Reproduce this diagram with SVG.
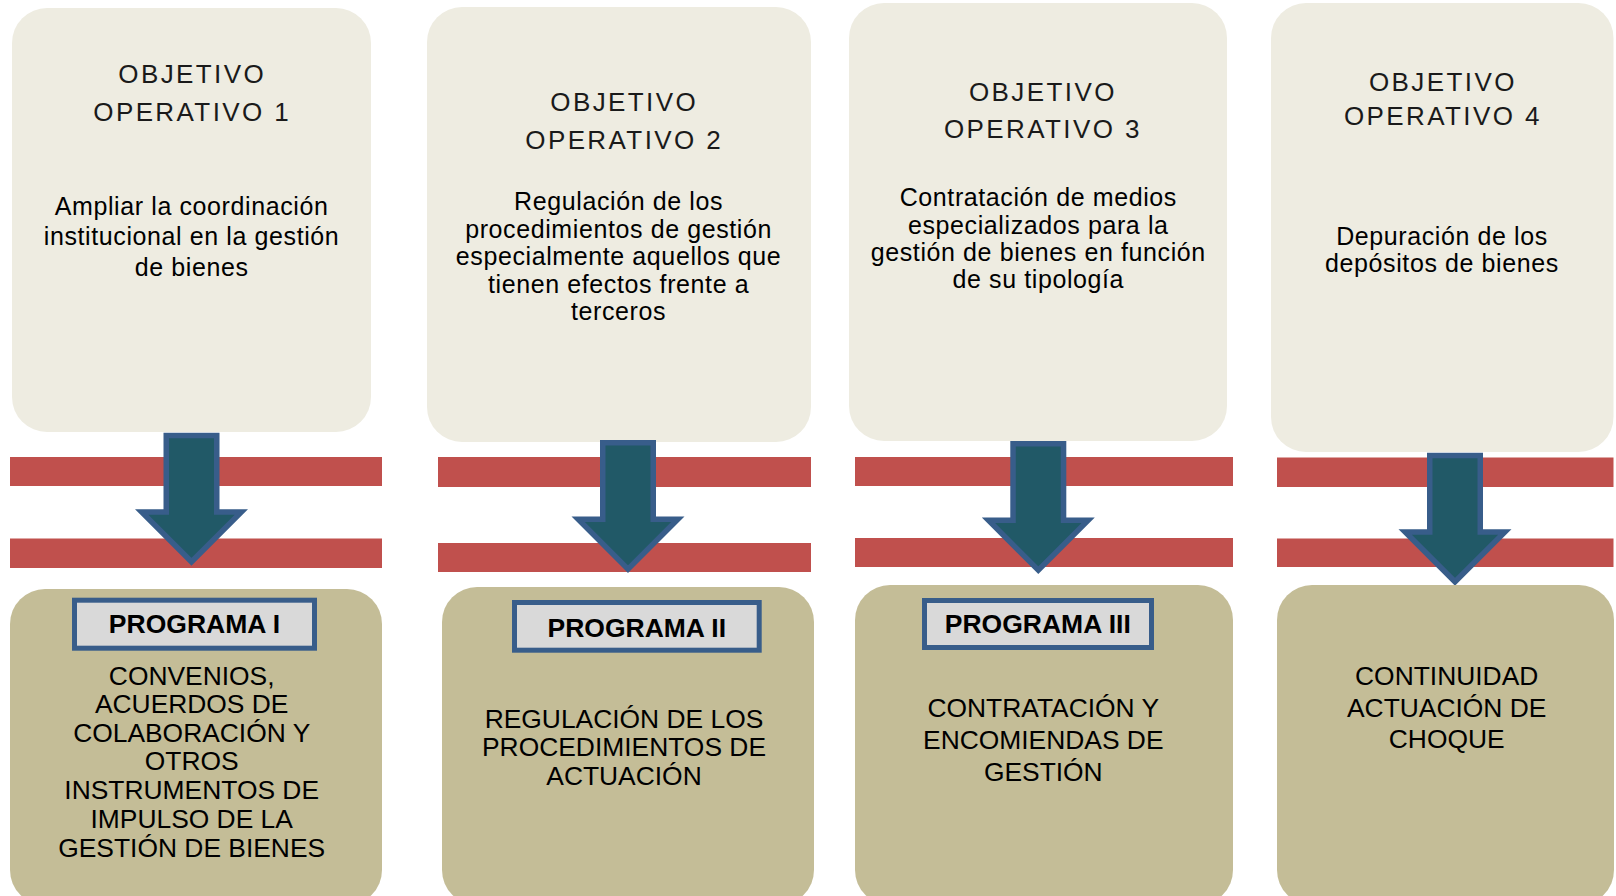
<svg xmlns="http://www.w3.org/2000/svg" xmlns:xlink="http://www.w3.org/1999/xlink" width="1616" height="896" viewBox="0 0 1616 896">
<style>
.obj{fill:#EEECE1}
.prog{fill:#C4BD97}
.band{fill:#C0504D}
.lbl{fill:#D9D9D9;stroke:#385D8A;stroke-width:5}
.arrow{fill:#215967;stroke:#385D8A;stroke-width:5.5;stroke-linejoin:miter}
.title{font-family:"Liberation Sans",Arial,sans-serif;font-size:26px;letter-spacing:2.4px;fill:#1a1a1a;text-anchor:middle}
.body{font-family:"Liberation Sans",Arial,sans-serif;font-size:25px;letter-spacing:0.6px;fill:#000;text-anchor:middle}
.ptitle{font-family:"Liberation Sans",Arial,sans-serif;font-size:26.5px;font-weight:bold;fill:#000;text-anchor:middle}
.pbody{font-family:"Liberation Sans",Arial,sans-serif;font-size:26.4px;fill:#000;text-anchor:middle}
</style>
<defs>
<path id="arr" class="arrow" d="M-25.25,2.75 H25.25 V79.25 H49.85 L0,129.1 L-49.85,79.25 H-25.25 Z"/>
</defs>

<g id="bands">
<rect class="band" x="10" y="457" width="372" height="29"/>
<rect class="band" x="10" y="538.5" width="372" height="29.5"/>
<rect class="band" x="438" y="457" width="373" height="30"/>
<rect class="band" x="438" y="543" width="373" height="29"/>
<rect class="band" x="855" y="457" width="378" height="29"/>
<rect class="band" x="855" y="538" width="378" height="29"/>
<rect class="band" x="1277" y="457.5" width="336.5" height="29.5"/>
<rect class="band" x="1277" y="538.5" width="336.5" height="28.5"/>
</g>

<g id="obj1">
<rect class="obj" x="12" y="8" width="359" height="424" rx="35"/>
<text class="title" x="192.2" y="83">OBJETIVO</text>
<text class="title" x="192.2" y="121">OPERATIVO 1</text>
<text class="body" x="191.6" y="215">Ampliar la coordinación</text>
<text class="body" x="191.6" y="245">institucional en la gestión</text>
<text class="body" x="191.6" y="276">de bienes</text>
</g>

<g id="obj2">
<rect class="obj" x="427" y="7" width="384" height="435" rx="35"/>
<text class="title" x="624.2" y="111">OBJETIVO</text>
<text class="title" x="624.2" y="149">OPERATIVO 2</text>
<text class="body" x="618.6" y="210">Regulación de los</text>
<text class="body" x="618.6" y="237.5">procedimientos de gestión</text>
<text class="body" x="618.6" y="265">especialmente aquellos que</text>
<text class="body" x="618.6" y="293">tienen efectos frente a</text>
<text class="body" x="618.6" y="319.5">terceros</text>
</g>

<g id="obj3">
<rect class="obj" x="849" y="3" width="378" height="438" rx="35"/>
<text class="title" x="1042.9" y="100.7">OBJETIVO</text>
<text class="title" x="1042.9" y="138.3">OPERATIVO 3</text>
<text class="body" x="1038.3" y="206">Contratación de medios</text>
<text class="body" x="1038.3" y="233.5">especializados para la</text>
<text class="body" x="1038.3" y="261">gestión de bienes en función</text>
<text class="body" x="1038.3" y="288">de su tipología</text>
</g>

<g id="obj4">
<rect class="obj" x="1271" y="3" width="342.5" height="449" rx="35"/>
<text class="title" x="1442.9" y="90.7">OBJETIVO</text>
<text class="title" x="1442.9" y="125">OPERATIVO 4</text>
<text class="body" x="1442" y="245">Depuración de los</text>
<text class="body" x="1442" y="271.7">depósitos de bienes</text>
</g>

<g id="connectors">
<use xlink:href="#arr" href="#arr" x="191.5" y="432.7"/>
<use xlink:href="#arr" href="#arr" x="628" y="440"/>
<use xlink:href="#arr" href="#arr" x="1038.3" y="441"/>
<use xlink:href="#arr" href="#arr" x="1455" y="452.7"/>
</g>

<g id="prog1">
<rect class="prog" x="10" y="589" width="372" height="316" rx="35"/>
<rect class="lbl" x="74.5" y="600.2" width="240" height="48"/>
<text class="ptitle" x="194.5" y="633">PROGRAMA I</text>
<text class="pbody" x="191.7" y="685">CONVENIOS,</text>
<text class="pbody" x="191.7" y="713">ACUERDOS DE</text>
<text class="pbody" x="191.7" y="741.7">COLABORACIÓN Y</text>
<text class="pbody" x="191.7" y="770">OTROS</text>
<text class="pbody" x="191.7" y="799">INSTRUMENTOS DE</text>
<text class="pbody" x="191.7" y="828">IMPULSO DE LA</text>
<text class="pbody" x="191.7" y="857">GESTIÓN DE BIENES</text>
</g>

<g id="prog2">
<rect class="prog" x="442" y="587" width="372" height="318" rx="35"/>
<rect class="lbl" x="514.5" y="602.5" width="244.7" height="47.7"/>
<text class="ptitle" x="636.8" y="637.3">PROGRAMA II</text>
<text class="pbody" x="624" y="727.7">REGULACIÓN DE LOS</text>
<text class="pbody" x="624" y="755.7">PROCEDIMIENTOS DE</text>
<text class="pbody" x="624" y="785">ACTUACIÓN</text>
</g>

<g id="prog3">
<rect class="prog" x="855" y="585" width="378" height="320" rx="35"/>
<rect class="lbl" x="924.5" y="600.5" width="227" height="47"/>
<text class="ptitle" x="1037.8" y="633.3">PROGRAMA III</text>
<text class="pbody" x="1043.3" y="716.7">CONTRATACIÓN Y</text>
<text class="pbody" x="1043.3" y="749">ENCOMIENDAS DE</text>
<text class="pbody" x="1043.3" y="780.7">GESTIÓN</text>
</g>

<g id="prog4">
<rect class="prog" x="1277" y="585" width="337" height="320" rx="35"/>
<text class="pbody" x="1446.7" y="685">CONTINUIDAD</text>
<text class="pbody" x="1446.7" y="716.7">ACTUACIÓN DE</text>
<text class="pbody" x="1446.7" y="748.3">CHOQUE</text>
</g>
</svg>
